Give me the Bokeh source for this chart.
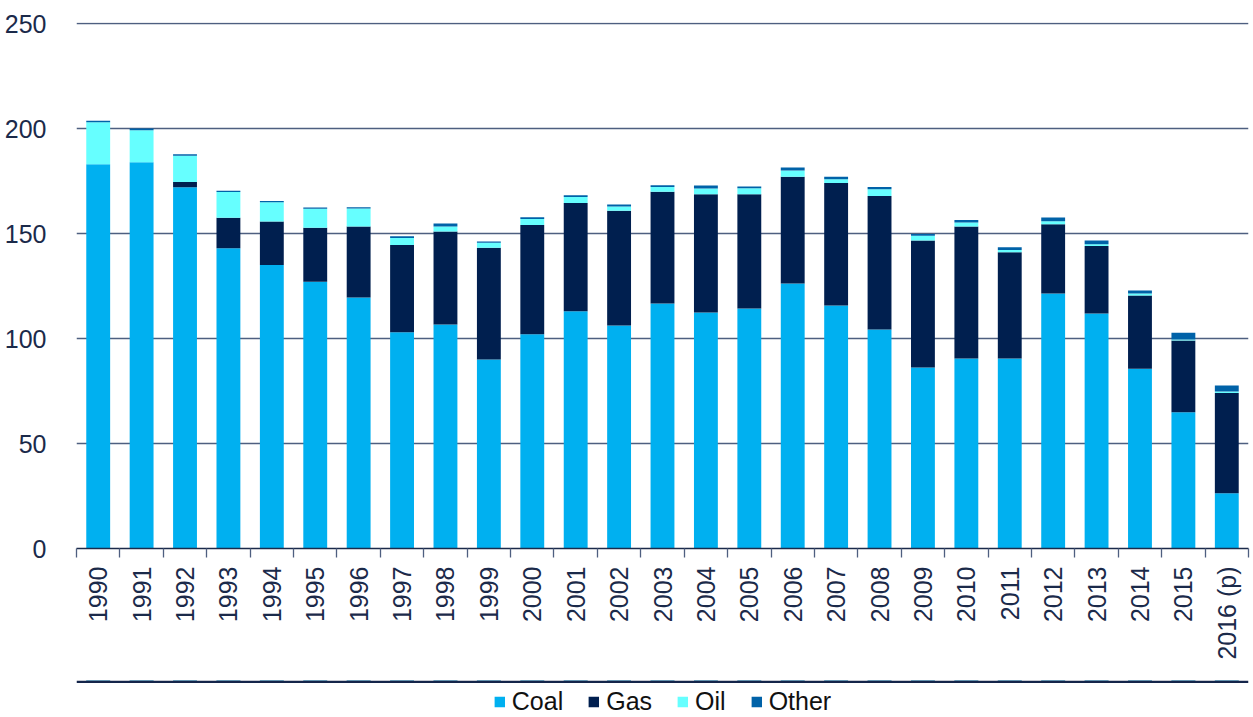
import math
from bokeh.plotting import figure
from bokeh.layouts import column
from bokeh.models import (ColumnDataSource, Range1d, LinearAxis, FixedTicker, Legend, LegendItem,
                          Span)
from bokeh.embed import file_html
from bokeh.resources import INLINE

years = ["1990", "1991", "1992", "1993", "1994", "1995", "1996", "1997", "1998", "1999",
         "2000", "2001", "2002", "2003", "2004", "2005", "2006", "2007", "2008", "2009",
         "2010", "2011", "2012", "2013", "2014", "2015", "2016 (p)"]
coal = [183, 184, 172, 143, 135, 127, 119.5, 103, 106.7, 90,
        102, 113, 106.2, 116.7, 112.4, 114.3, 126.2, 115.7, 104.3, 86.2,
        90.5, 90.5, 121.4, 111.9, 85.6, 64.9, 26.3]
gas = [0, 0, 2.5, 14.5, 20.7, 25.8, 33.8, 41.5, 44.3, 53.2,
       52.1, 51.5, 54.6, 53.2, 56.3, 54.4, 50.9, 58.4, 63.6, 60.5,
       62.8, 50.6, 33.0, 32.2, 34.9, 34.1, 47.7]
oil = [20, 15.2, 12.5, 12.3, 9.2, 9.0, 8.6, 3.4, 2.3, 2.4,
       2.8, 2.9, 2.1, 2.2, 2.7, 2.9, 2.9, 1.8, 3.2, 2.2,
       1.9, 1.0, 1.5, 0.8, 0.9, 0.5, 0.8]
other = [0.7, 0.8, 0.8, 0.6, 0.6, 0.6, 0.6, 0.8, 1.5, 0.6,
         0.8, 0.8, 0.9, 0.9, 1.5, 0.8, 1.4, 1.2, 1.1, 0.9,
         1.3, 1.4, 1.7, 1.8, 1.5, 3.2, 2.8]
series = ["Coal", "Gas", "Oil", "Other"]
colors = ["#00B0F0", "#001F4F", "#66FFFF", "#0062A8"]
y_ticks = [0, 50, 100, 150, 200, 250]

FONT = "Liberation Sans"
NAVY = "#1B2A4A"

W = 1250
LEFT, TOP, RIGHT, BOTTOM = 76, 22, 2, 132
FRAME_H = 526
H1 = TOP + FRAME_H + BOTTOM
H2 = 36

n = len(years)
centers = [i + 0.5 for i in range(n)]
src = ColumnDataSource(dict(x=centers, Coal=coal, Gas=gas, Oil=oil, Other=other))

p = figure(width=W, height=H1, x_range=Range1d(0, n), y_range=Range1d(0, 250.5),
           output_backend="svg", toolbar_location=None, x_axis_location=None,
           min_border_left=LEFT, min_border_top=TOP, min_border_right=RIGHT,
           min_border_bottom=BOTTOM)
p.outline_line_color = None

rs = p.vbar_stack(series, x="x", width=0.55, color=colors, line_color=None, source=src)

# y axis
p.yaxis.ticker = FixedTicker(ticks=y_ticks)
p.yaxis.axis_line_color = None
p.yaxis.major_tick_line_color = None
p.yaxis.minor_tick_line_color = None
p.yaxis.major_label_text_font = FONT
p.yaxis.major_label_text_font_size = "25px"
p.yaxis.major_label_text_color = NAVY
p.yaxis.major_label_standoff = 24
p.ygrid.ticker = FixedTicker(ticks=y_ticks[1:])
p.ygrid.grid_line_color = "#4E5F80"
p.ygrid.grid_line_width = 1.3
p.xgrid.grid_line_color = None

# boundary tick axis
tick_axis = LinearAxis(ticker=FixedTicker(ticks=list(range(n + 1))),
                       major_tick_out=9, major_tick_in=0, minor_tick_line_color=None,
                       major_tick_line_color="#4E5F80", major_tick_line_width=1.3,
                       axis_line_color=NAVY, axis_line_width=1.5,
                       major_label_text_font_size="0px", major_label_standoff=0)
p.add_layout(tick_axis, "below")

# year label axis
label_axis = LinearAxis(ticker=FixedTicker(ticks=centers),
                        major_label_overrides={c: y for c, y in zip(centers, years)},
                        axis_line_color=None, major_tick_line_color=None,
                        minor_tick_line_color=None, major_tick_out=0, major_tick_in=0,
                        major_label_orientation=math.pi / 2, major_label_standoff=9,
                        major_label_text_font=FONT, major_label_text_font_size="25px",
                        major_label_text_color=NAVY)
p.add_layout(label_axis, "below")

# second strip: separator line and legend
p2 = figure(width=W, height=H2, x_range=Range1d(0, n), y_range=Range1d(-H2, 0),
            output_backend="svg", toolbar_location=None,
            x_axis_location=None, y_axis_location=None,
            min_border_left=LEFT, min_border_top=0, min_border_right=RIGHT,
            min_border_bottom=0)
p2.outline_line_color = None
p2.xgrid.grid_line_color = None
p2.ygrid.grid_line_color = None
p2.add_layout(Span(location=-1.3, dimension="width", line_color="#14254A", line_width=2.5))

# legend swatch renderers (their bars lie above this strip's range, so only the legend shows)
swatches = p2.vbar_stack(series, x="x", width=0.55, color=colors, line_color=None, source=src)
legend = Legend(items=[LegendItem(label=s, renderers=[r]) for s, r in zip(series, swatches)],
                orientation="horizontal", location="bottom_center",
                border_line_color=None, background_fill_alpha=0,
                label_text_font=FONT, label_text_font_size="25px", label_text_color="#111111",
                glyph_width=13, glyph_height=13, label_standoff=6, spacing=24,
                padding=0, margin=0, label_height=26)
p2.add_layout(legend)

layout = column(p, p2, spacing=0)
open("out.html", "w").write(file_html(layout, INLINE))
